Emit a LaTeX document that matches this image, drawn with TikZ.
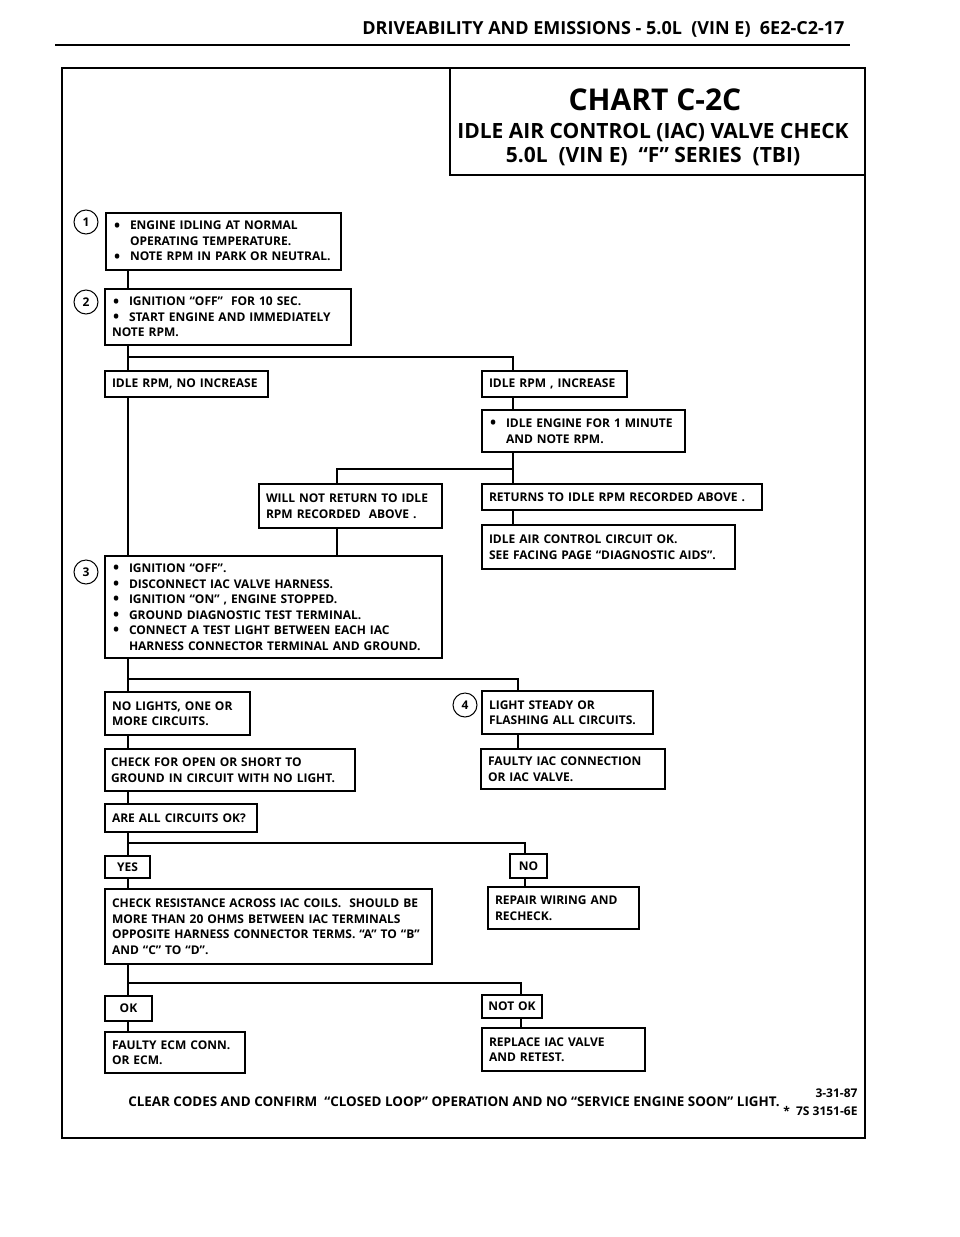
\documentclass[tikz,border=0pt]{standalone}
\usepackage{fontspec}
\setmainfont{Open Sans}
\newcommand\fs{\fontsize{12}{15.5}\selectfont\bfseries}
\newcommand\mybul{\makebox[17pt][l]{\hspace*{1pt}\raisebox{-1.3pt}{\scalebox{1.35}{\textbullet}}}}
\newcommand\myind{\hspace*{17pt}}
\begin{document}
\begin{tikzpicture}[x=1pt,y=-1pt]
\tikzset{
 box/.style={draw, line width=1.1pt, anchor=north west, inner xsep=7pt, inner ysep=2pt, align=left, font=\fs, outer sep=0pt, fill=white},
 cbox/.style={box, align=center, inner xsep=3pt},
 conn/.style={line width=2.6pt},
 num/.style={draw, circle, line width=1pt, minimum size=24pt, inner sep=0pt, font=\fontsize{12}{14}\selectfont\bfseries},
 frame/.style={line width=1.6pt}
}
\useasboundingbox (0,0) rectangle (960,1237);
% header
\node[anchor=base east, font=\fontsize{18}{21}\selectfont\bfseries] (hdr) at (848,34) {DRIVEABILITY AND EMISSIONS - 5.0L\ \ (VIN E)\ \ 6E2-C2-17};
\draw[line width=2pt] (55,45) -- (850,45);
% frame
\draw[frame] (62,68) rectangle (865,1138);
\draw[frame] (450,68) -- (450,175) -- (865,175);
\node[font=\fontsize{30}{34}\selectfont\bfseries] (ttl) at (655,100) {CHART C-2C};
\node[font=\fontsize{21}{24}\selectfont\bfseries] (sub1) at (653,133) {IDLE AIR CONTROL (IAC) VALVE CHECK};
\node[font=\fontsize{21}{24}\selectfont\bfseries] (sub2) at (653,157) {5.0L\ \ (VIN E)\ \ ``F'' SERIES\ \ (TBI)};
% boxes
\node[box, text width=221pt, minimum height=57pt] (b1) at (106,213) {\mybul ENGINE IDLING AT NORMAL\\ \myind OPERATING TEMPERATURE.\\ \mybul NOTE RPM IN PARK OR\ NEUTRAL.};
\node[box, text width=232pt, minimum height=56pt] (b2) at (105,289) {\mybul IGNITION ``OFF''\ \ FOR 10 SEC.\\ \mybul START ENGINE\ AND IMMEDIATELY\\ NOTE RPM.};
\node[box, text width=149pt, minimum height=26pt] (nr) at (105,371) {IDLE RPM, NO INCREASE};
\node[box, text width=131pt, minimum height=26pt] (ir) at (482,371) {IDLE RPM , INCREASE};
\node[box, text width=189pt, minimum height=42pt] (ie) at (482,410) {\mybul IDLE ENGINE FOR 1 MINUTE\\ \myind AND NOTE RPM.};
\node[box, text width=169pt, minimum height=44pt] (wn) at (259,484) {WILL NOT RETURN TO IDLE\\ RPM RECORDED\ \ ABOVE .};
\node[box, text width=266pt, minimum height=26pt] (rt) at (482,484) {RETURNS TO IDLE RPM RECORDED ABOVE .};
\node[box, text width=239pt, minimum height=44pt] (ok1) at (482,525) {IDLE AIR CONTROL CIRCUIT OK.\\ SEE FACING PAGE ``DIAGNOSTIC AIDS''.};
\node[box, text width=323pt, minimum height=102pt] (b3) at (105,556) {\mybul IGNITION ``OFF''.\\ \mybul DISCONNECT IAC VALVE HARNESS.\\ \mybul IGNITION ``ON'' , ENGINE STOPPED.\\ \mybul GROUND DIAGNOSTIC TEST TERMINAL.\\ \mybul CONNECT A TEST LIGHT BETWEEN EACH IAC\\ \myind HARNESS CONNECTOR TERMINAL AND GROUND.};
\node[box, text width=131pt, minimum height=43pt] (nl) at (105,692) {NO LIGHTS, ONE OR\\ MORE CIRCUITS.};
\node[box, text width=157pt, minimum height=43pt] (ls) at (482,691) {LIGHT STEADY OR\\ FLASHING\ ALL CIRCUITS.};
\node[box, text width=170pt, minimum height=40pt] (fi) at (481,749) {FAULTY\ IAC CONNECTION\\ OR IAC\ VALVE.};
\node[box, inner xsep=6pt, text width=238pt, minimum height=42pt] (co) at (105,749) {CHECK FOR OPEN OR SHORT TO\\ GROUND IN CIRCUIT WITH NO LIGHT.};
\node[box, text width=138pt, minimum height=28pt] (ac) at (105,804) {ARE ALL CIRCUITS OK?};
\node[cbox, text width=39pt, minimum height=22pt] (yes) at (105,856) {YES};
\node[cbox, text width=31pt, minimum height=24pt] (no) at (510,854) {NO};
\node[box, text width=313pt, minimum height=75pt] (cr) at (105,889) {CHECK RESISTANCE ACROSS IAC COILS.\ \ SHOULD BE\\ MORE THAN 20 OHMS BETWEEN IAC TERMINALS\\ OPPOSITE HARNESS CONNECTOR TERMS. ``A'' TO ``B''\\ AND ``C'' TO ``D''.};
\node[box, text width=137pt, minimum height=42pt] (rw) at (488,887) {REPAIR WIRING AND\\ RECHECK.};
\node[cbox, text width=41pt, minimum height=25pt] (okb) at (105,996) {OK};
\node[cbox, text width=54pt, minimum height=23pt] (nok) at (482,995) {NOT OK};
\node[box, text width=126pt, minimum height=41pt] (fe) at (105,1032) {FAULTY ECM CONN.\\ OR ECM.};
\node[box, text width=149pt, minimum height=43pt] (rv) at (482,1028) {REPLACE IAC VALVE\\ AND RETEST.};
% numbers
\node[num] (c1) at (86,222) {1};
\node[num] (c2) at (86,302) {2};
\node[num] (c3) at (86,572) {3};
\node[num] (c4) at (465,705) {4};
% connectors
\coordinate (L) at (128,0);
\coordinate (R1) at (513,0);
\coordinate (j1) at (513,357);
\coordinate (j2) at (337,469);
\coordinate (j3) at (518,679);
\coordinate (j4) at (525,843);
\coordinate (j5) at (521,983);
\draw[conn] (b1.south -| L) -- (b2.north -| L);
\draw[conn] (b2.south -| L) -- (nr.north -| L);
\draw[conn] (nr.south -| L) -- (b3.north -| L);
\draw[conn] (L |- j1) -- (j1) -- (ir.north -| j1);
\draw[conn] (ir.south -| R1) -- (ie.north -| R1);
\draw[conn] (ie.south -| R1) -- (rt.north -| R1);
\draw[conn] (rt.south -| R1) -- (ok1.north -| R1);
\draw[conn] (R1 |- j2) -- (j2) -- (wn.north -| j2);
\draw[conn] (wn.south -| j2) -- (b3.north -| j2);
\draw[conn] (b3.south -| L) -- (nl.north -| L);
\draw[conn] (L |- j3) -- (j3) -- (ls.north -| j3);
\draw[conn] (ls.south -| j3) -- (fi.north -| j3);
\draw[conn] (nl.south -| L) -- (co.north -| L);
\draw[conn] (co.south -| L) -- (ac.north -| L);
\draw[conn] (ac.south -| L) -- (yes.north -| L);
\draw[conn] (L |- j4) -- (j4) -- (no.north -| j4);
\draw[conn] (no.south -| j4) -- (rw.north -| j4);
\draw[conn] (yes.south -| L) -- (cr.north -| L);
\draw[conn] (cr.south -| L) -- (okb.north -| L);
\draw[conn] (L |- j5) -- (j5) -- (nok.north -| j5);
\draw[conn] (nok.south -| j5) -- (rv.north -| j5);
\draw[conn] (okb.south -| L) -- (fe.north -| L);
% footer
\node[font=\fontsize{13.4}{15}\selectfont\bfseries] (ft) at (454,1102) {CLEAR CODES AND CONFIRM\ \ ``CLOSED LOOP'' OPERATION AND NO ``SERVICE ENGINE SOON'' LIGHT.};
\node[anchor=east, font=\fontsize{12}{15}\selectfont\bfseries] (dt) at (861,1093) {3-31-87};
\node[anchor=east, font=\fontsize{12}{15}\selectfont\bfseries] (pn) at (861,1111) {*\ \ 7S 3151-6E};
\end{tikzpicture}
\end{document}
